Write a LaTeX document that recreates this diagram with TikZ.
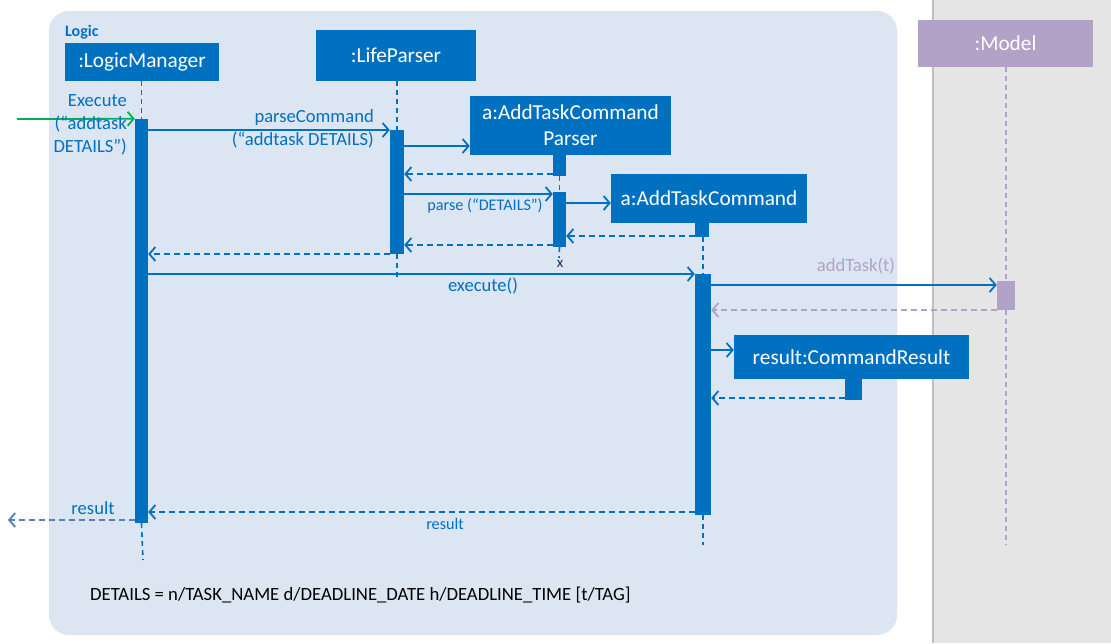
\documentclass[tikz,border=0pt]{standalone}
\usepackage{fontspec}
\setmainfont{Carlito}
\usetikzlibrary{arrows.meta}
\definecolor{mblue}{HTML}{0070C0}
\definecolor{lbg}{HTML}{DCE6F2}
\definecolor{mpurp}{HTML}{B3A2C7}
\definecolor{gbg}{HTML}{E5E5E5}
\definecolor{gline}{HTML}{BFBFBF}
\definecolor{mgreen}{HTML}{00B050}
\definecolor{rblue}{HTML}{4F81BD}
\definecolor{xcol}{HTML}{1F2A5C}
\tikzset{
  obj/.style={fill=mblue, text=white, inner sep=0pt, font=\fontsize{21.3}{26}\selectfont, align=center},
  act/.style={fill=mblue, inner sep=0pt},
  life/.style={mblue, line width=1.6pt, dash pattern=on 5pt off 4pt},
  msg/.style={mblue, line width=1.8pt, -{Straight Barb[length=6pt,width=14pt,line width=1.8pt]}},
  ret/.style={msg, dash pattern=on 6pt off 4pt},
  lbl/.style={text=mblue, font=\fontsize{18.6}{22.7}\selectfont, inner sep=0pt},
  slbl/.style={text=mblue, font=\fontsize{16.2}{18}\selectfont, inner sep=0pt}
}
\begin{document}
\begin{tikzpicture}[x=1pt,y=-1pt]
\useasboundingbox (0,0) rectangle (1111,643);
% backgrounds
\fill[white] (0,0) rectangle (1111,643);
\fill[gbg] (933,0) rectangle (1111,643);
\draw[gline, line width=1.5pt] (933,0) -- (933,643);
\fill[lbg, rounded corners=20pt] (49,11) rectangle (897,635);
\node[anchor=west, text=mblue, font=\bfseries\fontsize{16}{18}\selectfont, inner sep=0pt] (logic) at (65,32) {Logic};

% object boxes
\node[obj, minimum width=154pt, minimum height=38pt] (lm) at (142,62) {:LogicManager};
\node[obj, minimum width=160pt, minimum height=51pt] (lp) at (396,55.5) {:LifeParser};
\node[obj, minimum width=201pt, minimum height=59pt] (atcp) at (570.5,125.5) {a:AddTaskCommand\\Parser};
\node[obj, minimum width=196pt, minimum height=49pt] (atc) at (709,198.5) {a:AddTaskCommand};
\node[obj, fill=mpurp, minimum width=175pt, minimum height=47pt] (model) at (1005.5,43.5) {:Model};
\node[obj, minimum width=235pt, minimum height=44pt] (cr) at (851.5,357) {result:CommandResult};

% activations
\node[act, minimum width=13pt, minimum height=404pt] (lmA) at (141.5,321) {};
\node[act, minimum width=14pt, minimum height=124pt] (lpA) at (397,192) {};
\node[act, minimum width=13pt, minimum height=21pt] (atcpS) at (559.5,165.5) {};
\node[act, minimum width=13pt, minimum height=55pt] (atcpA) at (559.5,219.5) {};
\node[act, minimum width=14pt, minimum height=14pt] (atcS) at (702,230) {};
\node[act, minimum width=16pt, minimum height=241pt] (atcA) at (703,394.5) {};
\node[act, fill=mpurp, minimum width=18pt, minimum height=29pt] (modelA) at (1006,295.5) {};
\node[act, minimum width=17pt, minimum height=21pt] (crS) at (853.5,389.5) {};

% lifelines
\coordinate (lmEnd) at (143,560);
\coordinate (lpEnd) at (397,278);
\coordinate (atcpEnd) at (559,258);
\coordinate (atcEnd) at (703,545);
\coordinate (modelEnd) at (1006,545);
\draw[life] (lm.south -| lmA.north) -- (lmA.north);
\draw[life] (lmA.south) -- (lmEnd);
\draw[life] (lp.south -| lpA.north) -- (lpA.north);
\draw[life] (lpA.south) -- (lpEnd);
\draw[life] (atcpS.south) -- (atcpA.north);
\draw[life] (atcpA.south) -- (atcpEnd);
\draw[life] (atcS.south -| atcA.north) -- (atcA.north);
\draw[life] (atcA.south) -- (atcEnd);
\draw[life, mpurp] (model.south -| modelA.north) -- (modelA.north);
\draw[life, mpurp] (modelA.south) -- (modelEnd);
\node[text=xcol, font=\fontsize{15}{16}\selectfont, inner sep=0pt] (xmark) at (560,264) {x};

% messages
\coordinate (gstart) at (17,119);
\draw[msg, mgreen] (gstart) -- (lmA.north west);
\node[lbl, anchor=east, align=right] (exlbl) at (127,125) {Execute\\(“addtask\\DETAILS”)};

\draw[msg] (lmA.east |- 0,130) -- (lpA.west |- 0,130);
\node[lbl, anchor=east, align=right] (pclbl) at (374,129) {parseCommand\\(“addtask DETAILS)};

\draw[msg] (lpA.east |- 0,146) -- (atcp.west |- 0,146);
\draw[ret] (atcpS.west |- 0,174) -- (lpA.east |- 0,174);
\draw[msg] (lpA.east |- 0,194) -- (atcpA.west |- 0,194);
\node[slbl] (plbl) at (485,206) {parse (“DETAILS”)};
\draw[msg] (atcpA.east |- 0,203) -- (atc.west |- 0,203);
\draw[ret] (atcS.west |- 0,236) -- (atcpA.east |- 0,236);
\draw[ret] (atcpA.west |- 0,245) -- (lpA.east |- 0,245);
\draw[ret] (lpA.west |- 0,254) -- (lmA.east |- 0,254);

\draw[msg] (lmA.east |- 0,274) -- (atcA.west |- 0,274);
\node[lbl] (exelbl) at (483,286) {execute()};

\draw[msg] (atcA.east |- 0,285) -- (modelA.west |- 0,285);
\node[lbl, text=mpurp] (atlbl) at (856,266) {addTask(t)};
\draw[ret, mpurp] (modelA.west |- 0,310) -- (atcA.east |- 0,310);

\draw[msg] (atcA.east |- 0,350) -- (cr.west |- 0,350);
\draw[ret] (crS.west |- 0,398) -- (atcA.east |- 0,398);

\draw[ret] (atcA.west |- 0,512) -- (lmA.east |- 0,512);
\node[slbl] (r1lbl) at (445,524) {result};

\coordinate (rend) at (8,520);
\draw[ret, rblue] (lmA.west |- 0,520) -- (rend);
\node[lbl] (r2lbl) at (93,508) {result};

\node[anchor=west, inner sep=0pt, font=\fontsize{18.7}{20}\selectfont] (details) at (90,595) {DETAILS = n/TASK\_NAME d/DEADLINE\_DATE h/DEADLINE\_TIME [t/TAG]};
\end{tikzpicture}
\end{document}
